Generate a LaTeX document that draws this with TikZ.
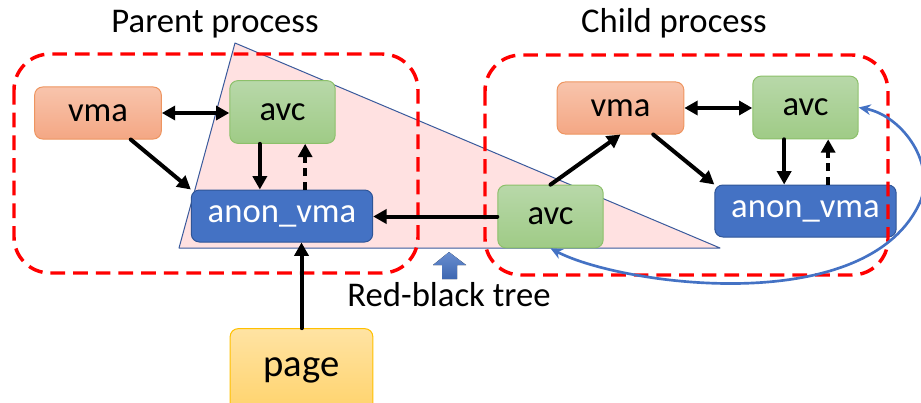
\documentclass[tikz,border=0pt]{standalone}
\usepackage{fontspec}
\setmainfont{Carlito}
\usetikzlibrary{arrows.meta}
\definecolor{vmatop}{HTML}{F8C4AC}
\definecolor{vmabot}{HTML}{F4A784}
\definecolor{vmaline}{HTML}{EE9560}
\definecolor{avctop}{HTML}{B8D8A9}
\definecolor{avcbot}{HTML}{9FCB86}
\definecolor{avcline}{HTML}{8CC06A}
\definecolor{anonfill}{HTML}{4472C4}
\definecolor{anonline}{HTML}{2F5597}
\definecolor{pagetop}{HTML}{FFE3A3}
\definecolor{pagebot}{HTML}{FFD36C}
\definecolor{pageline}{HTML}{FFC000}
\definecolor{procred}{HTML}{FF0000}
\definecolor{treepink}{HTML}{FFE1E1}
\definecolor{treeblue}{HTML}{3A5A9C}
\definecolor{curveblue}{HTML}{4472C4}
\begin{document}
\begin{tikzpicture}[x=0.75pt,y=-0.75pt,line cap=round,line join=round,>={Triangle[length=10pt,width=10.5pt]},
  box/.style={rounded corners=6pt,draw,line width=0.75pt,inner sep=0pt,font=\fontsize{26}{30}\selectfont},
  vmabox/.style={box,draw=vmaline,top color=vmatop,bottom color=vmabot,minimum width=95pt,minimum height=39pt},
  avcbox/.style={box,draw=avcline,top color=avctop,bottom color=avcbot,minimum width=79pt,minimum height=47pt},
  anonbox/.style={box,draw=anonline,fill=anonfill,text=white,minimum width=136pt,minimum height=39pt},
  pagebox/.style={box,draw=pageline,top color=pagetop,bottom color=pagebot,minimum width=107pt,minimum height=62pt,font=\fontsize{29}{34}\selectfont},
  title/.style={anchor=base,inner sep=0pt,font=\fontsize{26}{30}\selectfont},
  link/.style={line width=3pt,->},
  backlink/.style={link,dash pattern=on 6pt off 4pt,line cap=butt},
  procbox/.style={draw=procred,line width=2.6pt,dash pattern=on 11pt off 6pt,line cap=butt,rounded corners=27pt}]
  \useasboundingbox (0,0) rectangle (921,403);
  % red-black tree
  \filldraw[fill=treepink,draw=treeblue,line width=0.75pt] (235,43) -- (179,248) -- (720,248) -- cycle;
  % parent side
  \node[vmabox] (vmaL) at (98,113) {vma};
  \node[avcbox] (avcL) at (282.5,112) {avc};
  \node[anonbox] (anonL) at (282,216) {anon\_vma};
  \node[pagebox] (page) at (301.5,370) {page};
  % child side
  \node[avcbox] (avcM) at (550.5,216.5) {avc};
  \node[vmabox] (vmaR) at (620.5,108) {vma};
  \node[avcbox] (avcR) at (805.5,107.5) {avc};
  \node[anonbox] (anonR) at (805.5,211) {anon\_vma};
  % process frames
  \draw[procbox] (14,54) rectangle (418,273);
  \draw[procbox] (485,55) rectangle (888,275);
  \node[title] (parentlbl) at (215,33) {Parent process};
  \node[title] (childlbl) at (674,33) {Child process};
  \node[title] (treelbl) at (449,306) {Red-black tree};
  \fill[top color=anonfill!80!white,bottom color=anonfill!90!black] (449,252) -- (466,265) -- (457,265) -- (457,279) -- (442,279) -- (442,265) -- (433,265) -- cycle;
  % links
  \draw[link,<->] (vmaL.east) -- (vmaL.east -| avcL.west);
  \draw[link] (vmaL.-39) -- (anonL.north west);
  \draw[link] ([xshift=-17pt]avcL.south) -- ([xshift=-17pt]avcL.south |- anonL.north);
  \draw[backlink] ([xshift=17pt]avcL.south |- anonL.north) -- ([xshift=17pt]avcL.south);
  \draw[link] (avcM.west) -- (avcM.west -| anonL.east);
  \draw[link] (page.north) -- (page.north |- anonL.south);
  \draw[link] (avcM.north) -- (vmaR.south);
  \draw[link,<->] (vmaR.east) -- (vmaR.east -| avcR.west);
  \draw[link] (vmaR.-39) -- (anonR.north west);
  \draw[link] ([xshift=-16pt]avcR.south) -- ([xshift=-16pt]avcR.south |- anonR.north);
  \draw[backlink] ([xshift=17pt]avcR.south |- anonR.north) -- ([xshift=17pt]avcR.south);
  \draw[line width=2pt,draw=curveblue,{Stealth[length=9pt,width=8pt]}-{Stealth[length=9pt,width=8pt]}]
    (avcM.south) .. controls (620,285) and (870,320) .. (921,200) .. controls (935,160) and (900,115) .. (avcR.east);
\end{tikzpicture}
\end{document}
